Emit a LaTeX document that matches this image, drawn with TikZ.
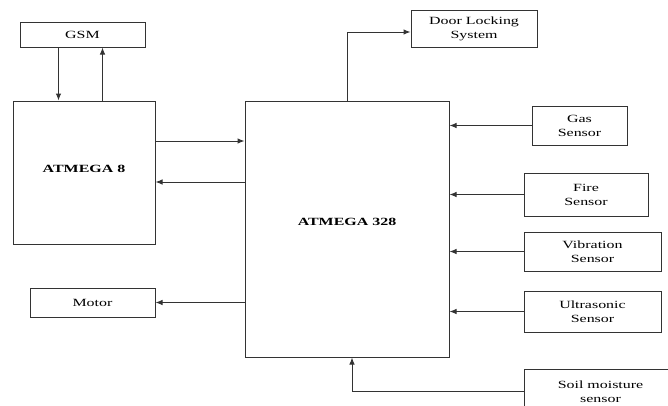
\documentclass[tikz,border=0pt]{standalone}
\usepackage{fontspec}
\setmainfont[FakeStretch=1.45]{Liberation Serif}
\usetikzlibrary{arrows.meta,calc}
\begin{document}
\begin{tikzpicture}[x=1pt,y=-1pt,
  box/.style={draw=black!80,line width=1pt,rectangle,inner sep=0pt,align=center,
    font=\fontsize{11}{14}\selectfont},
  arr/.style={draw=black!80,line width=1pt,-{Latex[length=7pt,width=5.5pt]}}]
\clip (0,0) rectangle (668,405);
\fill[white] (0,0) rectangle (668,405);
\node[box,minimum width=125pt,minimum height=25pt] (gsm) at (82.5,34.5) {GSM};
\node[box,minimum width=142pt,minimum height=143pt] (at8) at (84,172.5) {\raisebox{8pt}{\bfseries ATMEGA 8}};
\node[box,minimum width=204pt,minimum height=256pt] (at328) at (347,229) {\raisebox{14pt}{\bfseries ATMEGA 328}};
\node[box,minimum width=125pt,minimum height=29pt] (motor) at (92.5,302.5) {Motor};
\node[box,minimum width=126pt,minimum height=37pt] (door) at (474,28.5) {Door Locking\\System};
\node[box,minimum width=95pt,minimum height=39pt] (gas) at (579.5,125.5) {Gas\\Sensor};
\node[box,minimum width=124pt,minimum height=43pt] (fire) at (586,194.5) {Fire\\Sensor};
\node[box,minimum width=137pt,minimum height=39pt] (vib) at (592.5,251.5) {Vibration\\Sensor};
\node[box,minimum width=137pt,minimum height=41pt] (ultra) at (592.5,311.5) {Ultrasonic\\Sensor};
\node[box,minimum width=152pt,minimum height=46pt,anchor=north west] (soil) at (524,369) {\raisebox{4pt}{\begin{tabular}{@{}c@{}}Soil moisture\\sensor\end{tabular}}};
% GSM <-> ATMEGA 8
\coordinate (g1) at ($(gsm.south west)+(39,0)$);
\coordinate (g2) at ($(gsm.south west)+(83,0)$);
\draw[arr] (g1) -- (g1 |- at8.north);
\draw[arr] (g2 |- at8.north) -- (g2);
% ATMEGA 8 <-> ATMEGA 328
\coordinate (y1) at (0,141);
\coordinate (y2) at (0,182);
\draw[arr] (at8.east |- y1) -- (at328.west |- y1);
\draw[arr] (at328.west |- y2) -- (at8.east |- y2);
% Motor
\draw[arr] (at328.west |- motor.east) -- (motor.east);
% Door
\coordinate (y3) at (0,32);
\draw[arr] (at328.north) -- (at328.north |- y3) -- (door.west |- y3);
% Sensors
\draw[arr] (gas.west) -- (at328.east |- gas.west);
\draw[arr] (fire.west) -- (at328.east |- fire.west);
\draw[arr] (vib.west) -- (at328.east |- vib.west);
\draw[arr] (ultra.west) -- (at328.east |- ultra.west);
\coordinate (sc) at ($(at328.south)+(5,0)$);
\coordinate (y4) at (0,391);
\draw[arr] (soil.west |- y4) -- (sc |- y4) -- (sc);
\end{tikzpicture}
\end{document}
